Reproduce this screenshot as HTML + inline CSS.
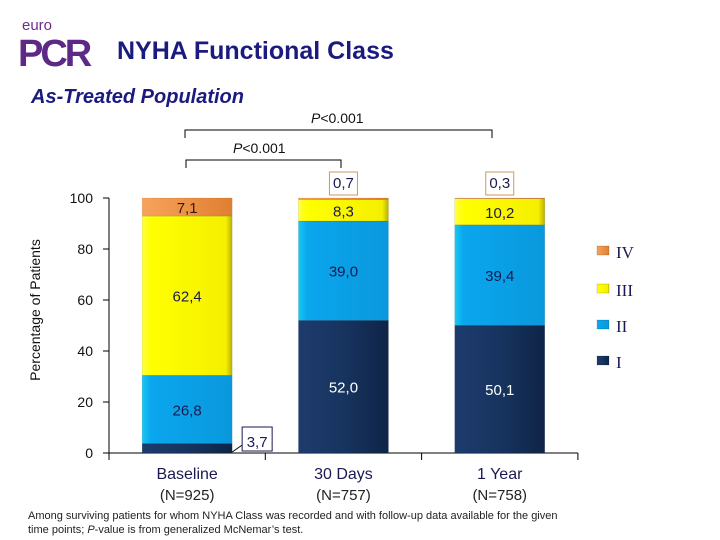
<!DOCTYPE html>
<html><head><meta charset="utf-8"><style>
body{margin:0;background:#fff;}
svg{display:block;font-family:"Liberation Sans","DejaVu Sans",sans-serif;}
</style></head><body>
<svg id="c" width="720" height="540" viewBox="0 0 720 540">
<defs>
<linearGradient id="gI" x1="0" x2="1"><stop offset="0" stop-color="#1e3b6e"/><stop offset="0.5" stop-color="#17345f"/><stop offset="1" stop-color="#0f2447"/></linearGradient>
<linearGradient id="gII" x1="0" x2="1"><stop offset="0" stop-color="#16c8f0"/><stop offset="0.1" stop-color="#0aa6ee"/><stop offset="1" stop-color="#0a98dc"/></linearGradient>
<linearGradient id="gIII" x1="0" x2="1"><stop offset="0" stop-color="#ffff40"/><stop offset="0.1" stop-color="#ffff00"/><stop offset="0.93" stop-color="#f5f000"/><stop offset="1" stop-color="#b8b000"/></linearGradient>
<linearGradient id="gIV" x1="0" x2="1"><stop offset="0" stop-color="#f7a35c"/><stop offset="1" stop-color="#e07f30"/></linearGradient>
</defs>
<g>
<text x="22" y="30" font-size="15" fill="#6b2d8c">euro</text>
<text x="18" y="66" font-size="38" font-weight="bold" fill="#5c2a86" letter-spacing="-3">PCR</text>
</g>
<text x="117" y="59" font-size="25" font-weight="bold" fill="#1a1a80">NYHA Functional Class</text>
<text x="31" y="103" font-size="20" font-weight="bold" font-style="italic" fill="#1a1a80">As-Treated Population</text>
<g stroke="#000" fill="none">
<path d="M185 138 V130 H492 V138"/></g>
<text x="311" y="123" font-size="14" fill="#111"><tspan font-style="italic">P</tspan>&lt;0.001</text>
<g stroke="#000" fill="none"><path d="M186 168 V160 H341 V168"/></g>
<text x="233" y="153" font-size="14" fill="#111"><tspan font-style="italic">P</tspan>&lt;0.001</text>
<text transform="translate(40,310) rotate(-90)" text-anchor="middle" font-size="14" fill="#111">Percentage of Patients</text>
<g id="axes"></g><g id="bars"></g><g id="legend"></g>
<g font-size="11" fill="#222">
<text x="28" y="519">Among surviving patients for whom NYHA Class was recorded and with follow-up data available for the given</text>
<text x="28" y="533">time  points; <tspan font-style="italic">P</tspan>-value is from generalized McNemar’s test.</text>
</g>
</svg>
<script>
const categories=["Baseline","30 Days","1 Year"];
const nLabels=["(N=925)","(N=757)","(N=758)"];
const seriesNames=["I","II","III","IV"];
const classI=[3.7,52.0,50.1];
const classII=[26.8,39.0,39.4];
const classIII=[62.4,8.3,10.2];
const classIV=[7.1,0.7,0.3];
const yTicks=[0,20,40,60,80,100];
const NS="http://www.w3.org/2000/svg";
const x0=109,catW=156.3,barW=90,y0=453,yTop=198;
const y=v=>y0-(v/100)*(y0-yTop);
function mk(t,a,p){const e=document.createElementNS(NS,t);for(const k in a)e.setAttribute(k,a[k]);p.appendChild(e);return e;}
const ax=document.getElementById('axes');
const al=mk('line',{x1:x0,y1:yTop,x2:x0,y2:y0,stroke:'#000'},ax);


const xl=mk('line',{x1:x0,y1:y0,x2:x0+catW*3,y2:y0,stroke:'#000'},ax);


yTicks.forEach(t=>{
 mk('line',{x1:x0-6,x2:x0,y1:y(t),y2:y(t),stroke:'#000'},ax);
 const tx=mk('text',{x:93,y:y(t)+5,'text-anchor':'end','font-size':14,fill:'#111'},ax);
 tx.textContent=t;
 
 
});
for(let i=0;i<=3;i++)mk('line',{x1:x0+catW*i,x2:x0+catW*i,y1:y0,y2:y0+7,stroke:'#000'},ax);
categories.forEach((c,i)=>{
 const cx=x0+catW*(i+0.5);
 const t=mk('text',{x:cx,y:479,'text-anchor':'middle','font-size':16,fill:'#1a1a50'},ax);t.textContent=c;
 
 
 const n=mk('text',{x:cx,y:500,'text-anchor':'middle','font-size':15,fill:'#222'},ax);n.textContent=nLabels[i];
 
 
});
const series=[classI,classII,classIII,classIV];
const fills=['url(#gI)','url(#gII)','url(#gIII)','url(#gIV)'];
const txtCol=['#fff','#1a1a50','#1a1a50','#3a1a10'];
const bg=document.getElementById('bars');
categories.forEach((c,i)=>{
 const bx=x0+catW*(i+0.5)-barW/2;let cum=0;
 series.forEach((s,k)=>{
  const v=s[i];const top=y(cum+v),bot=y(cum);
  const r=mk('rect',{x:bx,y:top,width:barW,height:bot-top,fill:fills[k],stroke:'rgba(0,0,0,0.15)','stroke-width':0.5},bg);
  
  
  const small=v<5;
  let tx=bx+barW/2,ty=(top+bot)/2+6;
  if(k===0&&small){tx=bx+barW+25;ty=bot-6;
   mk('line',{x1:bx+barW,y1:bot-1,x2:bx+barW+13,y2:bot-10,stroke:'#000'},bg);
   mk('rect',{x:bx+barW+10,y:bot-26,width:30,height:24,fill:'#fff',stroke:'#1a1a50'},bg);}
  else if(k===3&&small){ty=top-10;
   mk('rect',{x:bx+barW/2-14,y:top-26,width:28,height:23,fill:'#fff',stroke:'#c89a60'},bg);}
  const t=mk('text',{x:tx,y:ty,'text-anchor':'middle','font-size':15,fill:small?'#1a1a50':txtCol[k]},bg);
  t.textContent=v.toFixed(1).replace('.',',');
  
  
  cum+=v;
 });
});
const lg=document.getElementById('legend');
const ly=[252,290,326,362];
[3,2,1,0].forEach((k,j)=>{
 const r=mk('rect',{x:597,y:ly[j]-6,width:12,height:9,fill:fills[k],stroke:'rgba(0,0,0,0.3)','stroke-width':0.5},lg);
 
 
 const t=mk('text',{x:616,y:ly[j]+6,'font-size':17,fill:'#1a1a50','font-family':'Liberation Serif, serif'},lg);
 t.textContent=seriesNames[k];
 
 
});
</script>
</body></html>
